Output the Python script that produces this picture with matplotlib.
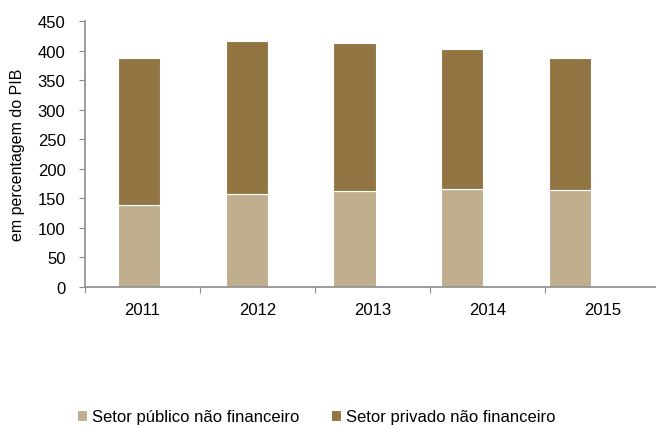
import numpy as np
import matplotlib.pyplot as plt

plt.rcParams['font.family'] = ['Liberation Sans', 'DejaVu Sans']

anos = ['2011', '2012', '2013', '2014', '2015']
setor_publico = [139, 157, 162, 166, 164]
setor_privado_total = [387, 416, 412, 403, 387]
setor_privado = [t - p for t, p in zip(setor_privado_total, setor_publico)]

cor_publico = '#C0AF8F'
cor_privado = '#917543'
cinza = '#8C8C8C'

fig = plt.figure(figsize=(6.56, 4.27), dpi=100)
ax = fig.add_axes([85 / 656, 1 - 288 / 427, 575 / 656, 266 / 427])

x = np.arange(len(anos))
ax.bar(x, setor_publico, width=0.39, color=cor_publico, edgecolor='white', linewidth=0.8,
       label='Setor público não financeiro')
ax.bar(x, setor_privado, width=0.39, bottom=setor_publico, color=cor_privado,
       edgecolor='white', linewidth=0.8, label='Setor privado não financeiro')

# category slots in the original are a bit wider than the bar spacing
passo = 115 / 107.8
ax.set_xlim(-0.5, -0.5 + 5 * passo)
ax.set_ylim(0, 450)
ax.set_yticks(range(0, 451, 50))

ax.set_xticks([-0.5 + k * passo for k in range(6)])
ax.set_xticklabels([])
ax.set_xticks([-0.5 + (k + 0.5) * passo for k in range(5)], minor=True)
ax.set_xticklabels(anos, minor=True)
ax.tick_params(axis='x', which='minor', length=0, pad=11, labelsize=12)
ax.tick_params(axis='x', which='major', length=4, color=cinza, direction='out')
ax.tick_params(axis='y', length=4, color=cinza, labelsize=12, pad=10)

for s in ['top', 'right']:
    ax.spines[s].set_visible(False)
for s in ['left', 'bottom']:
    ax.spines[s].set_color(cinza)
    ax.spines[s].set_linewidth(1.2)

ax.set_ylabel('em percentagem do PIB', fontsize=11.5)
ax.yaxis.set_label_coords(-60 / 575, 0.5)

fig.legend(loc='center left', bbox_to_anchor=(77 / 656, 9 / 427), ncol=2, frameon=False,
           fontsize=12, handlelength=0.6, handleheight=0.6, handletextpad=0.3,
           columnspacing=1.9, borderpad=0, borderaxespad=0)

fig.savefig('out.png', dpi=100)
